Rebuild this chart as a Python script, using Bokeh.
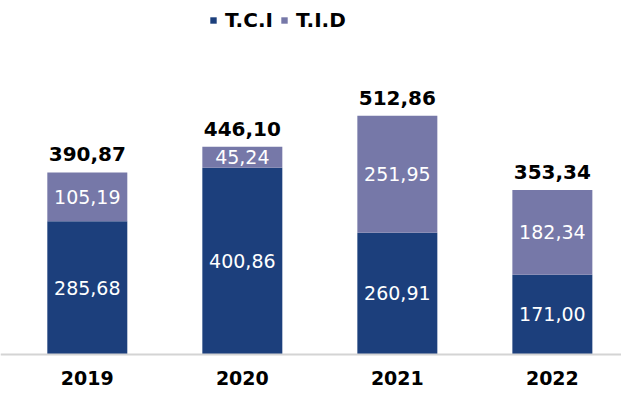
from bokeh.plotting import figure
from bokeh.models import Range1d, Legend, LegendItem, ColumnDataSource, FixedTicker
from bokeh.embed import file_html
from bokeh.resources import INLINE
from bokeh.core.properties import value

years = ["2019", "2020", "2021", "2022"]
tci = [285.68, 400.86, 260.91, 171.00]
tid = [105.19, 45.24, 251.95, 182.34]
totals = [390.87, 446.10, 512.86, 353.34]
series_names = ["T.C.I", "T.I.D"]
colors = ["#1c3f7c", "#7678a8"]


def fmt(v):
    return f"{v:.2f}".replace(".", ",")


x = list(range(len(years)))
src = ColumnDataSource(dict(
    x=x, tci=tci, tid=tid, total=totals,
    tci_mid=[a / 2 for a in tci],
    tid_mid=[a + b / 2 for a, b in zip(tci, tid)],
    tci_lab=[fmt(v) for v in tci],
    tid_lab=[fmt(v) for v in tid],
    tot_lab=[fmt(v) for v in totals],
))

p = figure(width=621, height=391, output_backend="svg", toolbar_location=None,
           x_range=Range1d(-0.560, 3.446), y_range=Range1d(-80.5, 760.9),
           min_border=0)
p.title.visible = False
p.outline_line_color = None
p.xgrid.visible = False
p.ygrid.visible = False
p.yaxis.visible = False
p.background_fill_color = "white"

rs = p.vbar_stack(["tci", "tid"], x="x", width=0.516, fill_color=colors,
                  line_color=None, source=src)

FONT = value("DejaVu Sans")
p.text(x="x", y="tci_mid", text="tci_lab", source=src, text_color="white",
       text_font=FONT, text_font_size="19px", text_align="center",
       text_baseline="middle", y_offset=0)
p.text(x="x", y="tid_mid", text="tid_lab", source=src, text_color="white",
       text_font=FONT, text_font_size="19px", text_align="center",
       text_baseline="middle", y_offset=0)
p.text(x="x", y="total", text="tot_lab", source=src, text_color="black",
       text_font=FONT, text_font_size="20px", text_font_style="bold",
       text_align="center", text_baseline="alphabetic", y_offset=-18)

ax = p.xaxis[0]
ax.fixed_location = 0
ax.ticker = FixedTicker(ticks=x)
ax.major_label_overrides = {i: y for i, y in zip(x, years)}
ax.major_tick_line_color = None
ax.minor_tick_line_color = None
ax.axis_line_color = "#d4d4d4"
ax.axis_line_width = 2
ax.major_label_text_font = "DejaVu Sans"
ax.major_label_text_font_style = "bold"
ax.major_label_text_font_size = "19px"
ax.major_label_text_color = "black"
ax.major_label_standoff = 11

legend = Legend(items=[LegendItem(label=n, renderers=[r]) for n, r in zip(series_names, rs)],
                orientation="horizontal", location=(209, 359),
                border_line_color=None, background_fill_alpha=0,
                padding=0, margin=0, spacing=7, label_standoff=8,
                glyph_width=8, glyph_height=8,
                label_text_font="DejaVu Sans", label_text_font_style="bold",
                label_text_font_size="20px", label_text_color="black")
p.add_layout(legend)

open("out.html", "w").write(file_html(p, INLINE))
